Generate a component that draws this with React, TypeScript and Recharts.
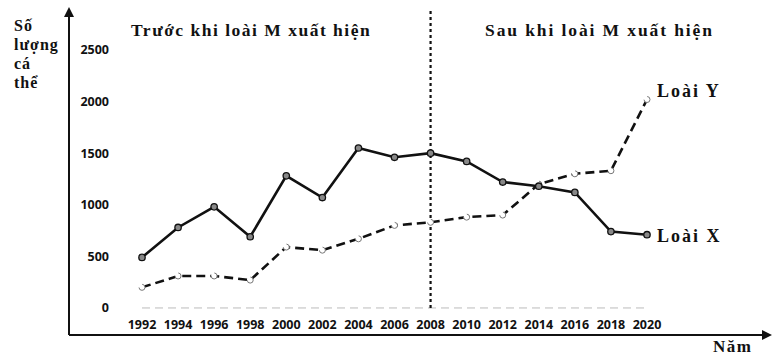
import React from 'react';
import { LineChart, Line, XAxis, YAxis, ReferenceLine, LabelList } from 'recharts';

const years = ['1992', '1994', '1996', '1998', '2000', '2002', '2004', '2006', '2008', '2010', '2012', '2014', '2016', '2018', '2020'];
const loaiX = [490, 780, 980, 690, 1280, 1070, 1550, 1460, 1500, 1420, 1220, 1180, 1120, 740, 710];
const loaiY = [200, 310, 310, 270, 590, 560, 670, 800, 830, 880, 900, 1200, 1300, 1330, 2020];
const yTicks = [0, 500, 1000, 1500, 2000, 2500];

const data = years.map((year, i) => ({ year, x: loaiX[i], y: loaiY[i] }));

const serif = '"Liberation Serif", "DejaVu Serif", serif';
const sans = '"Open Sans", "Liberation Sans", sans-serif';

const XTick = ({ x, y, payload }: any) => (
  <text x={x} y={y - 6} textAnchor="middle" fontFamily={sans} fontSize={12.5} fontWeight={700} fill="#111">
    {payload.value}
  </text>
);

const YTick = ({ x, y, payload }: any) => (
  <text x={x + 40} y={y} dy="0.35em" textAnchor="end" fontFamily={sans} fontSize={12.5} fontWeight={700} fill="#111">
    {payload.value}
  </text>
);

const endLabel = (name: string, dy: number) => (props: any) => {
  const { x, y, index } = props;
  if (index !== years.length - 1) return null;
  return (
    <text x={x + 10} y={y + dy} fontFamily={serif} fontSize={18} fontWeight={700} letterSpacing={2} fill="#111">
      {name}
    </text>
  );
};

const textStyle: React.CSSProperties = {
  position: 'absolute',
  fontFamily: serif,
  fontWeight: 700,
  color: '#111',
  whiteSpace: 'nowrap',
};

export default function App() {
  return (
    <div style={{ position: 'absolute', left: 0, top: 0, width: 774, height: 357, background: '#fff' }}>
      <svg width={0} height={0} style={{ position: 'absolute' }}>
        <defs>
          <marker id="arrow" viewBox="0 0 10 10" refX="8" refY="5" markerWidth="5" markerHeight="5" orient="auto-start-reverse">
            <path d="M0,0 L10,5 L0,10 z" fill="#111" />
          </marker>
        </defs>
      </svg>
      <LineChart width={774} height={357} data={data} margin={{ top: 9, right: 4, bottom: 2, left: 0 }}>
        <XAxis
          dataKey="year"
          height={20}
          padding={{ left: 73, right: 123 }}
          tickSize={0}
          tickMargin={0}
          tick={<XTick />}
          interval={0}
          axisLine={{ stroke: '#111', strokeWidth: 2, markerEnd: 'url(#arrow)' }}
        />
        <YAxis
          width={69}
          domain={[-262, 2897]}
          ticks={yTicks}
          tickSize={0}
          tickMargin={0}
          tick={<YTick />}
          axisLine={{ stroke: '#111', strokeWidth: 2, markerStart: 'url(#arrow)' }}
        />
        <ReferenceLine
          segment={[{ x: '1992', y: 0 }, { x: '2020', y: 0 }]}
          stroke="#bbb"
          strokeDasharray="8 5"
          strokeWidth={1}
        />
        <ReferenceLine
          segment={[{ x: '2008', y: 0 }, { x: '2008', y: 2897 }]}
          stroke="#111"
          strokeDasharray="3 3"
          strokeWidth={2.2}
        />
        <Line
          type="linear"
          dataKey="y"
          stroke="#111"
          strokeWidth={2.6}
          strokeDasharray="9 5"
          dot={{ r: 3, fill: '#fff', stroke: '#777', strokeWidth: 1 }}
          isAnimationActive={false}
        >
          <LabelList dataKey="y" content={endLabel('Loài Y', -3)} />
        </Line>
        <Line
          type="linear"
          dataKey="x"
          stroke="#111"
          strokeWidth={2.6}
          dot={{ r: 3.2, fill: '#888', stroke: '#111', strokeWidth: 1.3 }}
          isAnimationActive={false}
        >
          <LabelList dataKey="x" content={endLabel('Loài X', 7)} />
        </Line>
      </LineChart>
      <div style={{ ...textStyle, left: 131, top: 20, fontSize: 17.5, letterSpacing: 1.5 }}>Trước khi loài M xuất hiện</div>
      <div style={{ ...textStyle, left: 485, top: 20, fontSize: 17.5, letterSpacing: 1.9 }}>Sau khi loài M xuất hiện</div>
      <div style={{ ...textStyle, left: 14, top: 16, fontSize: 16, letterSpacing: 1, lineHeight: '19px', whiteSpace: 'normal', width: 54 }}>
        Số<br />lượng<br />cá<br />thể
      </div>
      <div style={{ ...textStyle, left: 713, top: 337, fontSize: 17, letterSpacing: 1.5 }}>Năm</div>
    </div>
  );
}
